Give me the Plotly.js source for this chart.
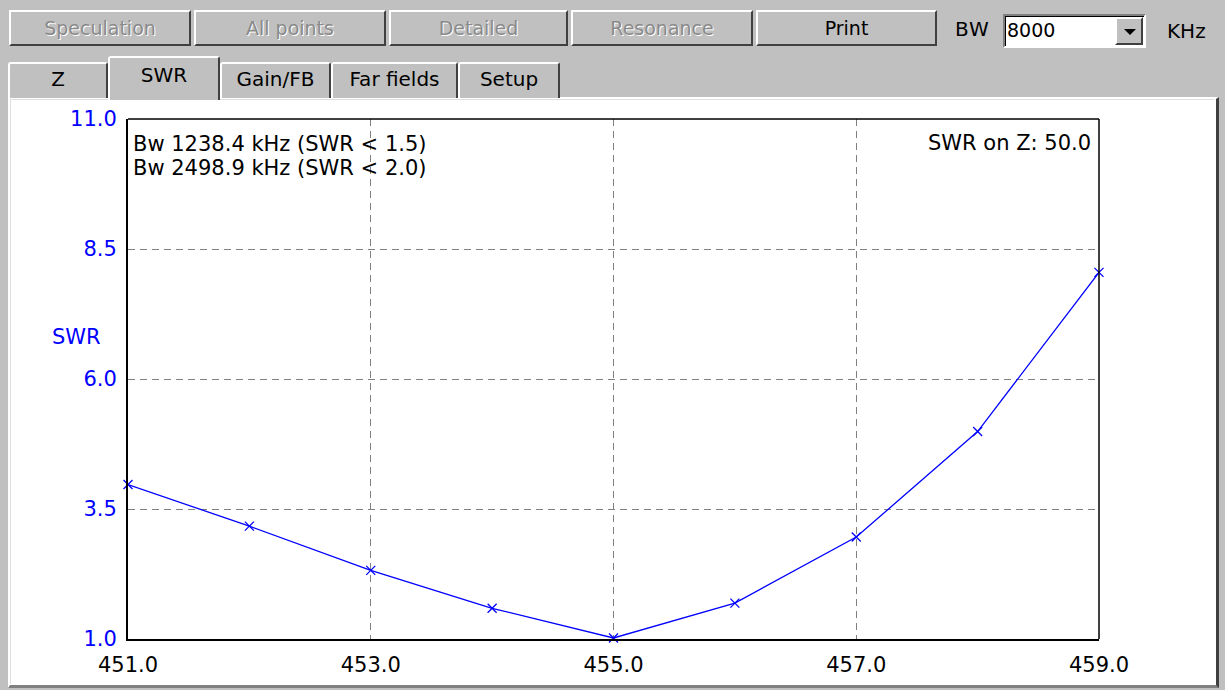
<!DOCTYPE html>
<html>
<head>
<meta charset="utf-8">
<script src="https://cdn.plot.ly/plotly-3.0.1.min.js"></script>
<style>
html,body{margin:0;padding:0;}
body{width:1225px;height:690px;background:#c0c0c0;position:relative;overflow:hidden;font-family:"DejaVu Sans",Arial,sans-serif;}
.btn{position:absolute;top:10px;height:36px;box-sizing:border-box;background:#c0c0c0;
 border-top:2px solid #ffffff;border-left:2px solid #ffffff;border-right:2px solid #404040;border-bottom:2px solid #404040;
 font-size:19px;line-height:32px;text-align:center;color:#000;}
.btn.dis{color:#8a8a8a;text-shadow:1px 1px 0 #ffffff;}
.tab{position:absolute;top:62px;height:36px;box-sizing:border-box;background:#c0c0c0;
 border-top:2px solid #ffffff;border-left:2px solid #ffffff;border-right:2px solid #404040;
 font-size:20px;line-height:30px;text-align:center;color:#000;border-radius:3px 3px 0 0;}
.tab.sel{top:56px;height:44px;z-index:3;line-height:34px;}
#panel{position:absolute;left:8px;top:97px;width:1211px;height:591px;box-sizing:border-box;background:#ffffff;
 border-top:2px solid #ffffff;border-left:2px solid #ffffff;border-right:3px solid #404040;border-bottom:3px solid #808080;}
#panelin{position:absolute;left:10px;top:99px;width:1204px;height:585px;box-sizing:border-box;border-top:1px solid #dfdfdf;border-left:1px solid #dfdfdf;}
#combo{position:absolute;left:1003px;top:14px;width:143px;height:34px;box-sizing:border-box;background:#fff;
 border-top:2px solid #808080;border-left:2px solid #808080;border-right:2px solid #ffffff;border-bottom:2px solid #ffffff;
 box-shadow:inset 1px 1px 0 #000;font-size:19px;line-height:28px;padding-left:2px;}
#drop{position:absolute;right:1px;top:1px;width:28px;height:28px;box-sizing:border-box;background:#c0c0c0;
 border-top:2px solid #fff;border-left:2px solid #fff;border-right:2px solid #404040;border-bottom:2px solid #404040;}
#drop:after{content:"";position:absolute;left:7px;top:10px;border-left:6px solid transparent;border-right:6px solid transparent;border-top:6px solid #000;}
.lbl{position:absolute;font-size:20px;color:#000;}
#chart{position:absolute;left:0;top:0;width:1225px;height:690px;z-index:5;}
</style>
</head>
<body>
<div class="btn dis" style="left:9px;width:182px;">Speculation</div>
<div class="btn dis" style="left:194px;width:192px;">All points</div>
<div class="btn dis" style="left:389px;width:179px;">Detailed</div>
<div class="btn dis" style="left:571px;width:182px;">Resonance</div>
<div class="btn" style="left:756px;width:181px;">Print</div>
<div class="lbl" style="left:955px;top:17px;letter-spacing:1px;">BW</div>
<div id="combo">8000<div id="drop"></div></div>
<div class="lbl" style="left:1167px;top:19px;">KHz</div>

<div id="panel"></div>
<div id="panelin"></div>
<div class="tab" style="left:8px;width:100px;">Z</div>
<div class="tab sel" style="left:108px;width:112px;">SWR</div>
<div class="tab" style="left:220px;width:111px;">Gain/FB</div>
<div class="tab" style="left:331px;width:127px;">Far fields</div>
<div class="tab" style="left:458px;width:102px;">Setup</div>

<div id="chart"></div>
<script>
// Frequency (MHz) and SWR values
const freq = [451.0, 452.0, 453.0, 454.0, 455.0, 456.0, 457.0, 458.0, 459.0];
const swr  = [3.97, 3.17, 2.32, 1.59, 1.02, 1.69, 2.96, 4.99, 8.05];
const xTickVals = [451, 453, 455, 457, 459];
const xTickText = ["451.0", "453.0", "455.0", "457.0", "459.0"];
const yTickVals = [1.0, 3.5, 6.0, 8.5, 11.0];
const yTickText = ["1.0", "3.5", "6.0", "8.5", "11.0"];
const infoLines = ["Bw 1238.4 kHz (SWR < 1.5)", "Bw 2498.9 kHz (SWR < 2.0)"];
const zInfo = "SWR on Z: 50.0";
const yTitle = "SWR";

const FONT = '"DejaVu Sans", Arial, sans-serif';
const trace = {
  x: freq, y: swr, type: 'scatter', mode: 'lines+markers',
  line: {color: '#0000ff', width: 1.3},
  marker: {symbol: 'x-thin', size: 9, color: '#0000ff', line: {color: '#0000ff', width: 1.3}},
  cliponaxis: false, hoverinfo: 'none'
};
const layout = {
  width: 1225, height: 690,
  margin: {l: 128, r: 126, t: 119, b: 51, pad: 0},
  paper_bgcolor: 'rgba(0,0,0,0)', plot_bgcolor: '#ffffff',
  showlegend: false,
  font: {family: FONT, size: 21, color: '#000'},
  xaxis: {
    range: [451, 459], tickmode: 'array', tickvals: xTickVals, ticktext: xTickText,
    showgrid: true, gridcolor: '#808080', griddash: '7px,5px', gridwidth: 1,
    zeroline: false, showline: true, linecolor: '#000', linewidth: 2,
    ticks: 'outside', ticklen: 6, tickcolor: 'rgba(0,0,0,0)',
    tickfont: {family: FONT, size: 21, color: '#000'},
    fixedrange: true
  },
  yaxis: {
    range: [1, 11], tickmode: 'array', tickvals: yTickVals, ticktext: yTickText,
    showgrid: true, gridcolor: '#808080', griddash: '7px,5px', gridwidth: 1,
    zeroline: false, showline: true, linecolor: '#000', linewidth: 2,
    ticks: 'outside', ticklen: 5, tickcolor: 'rgba(0,0,0,0)',
    tickfont: {family: FONT, size: 21, color: '#0000ff'}, fixedrange: true
  },
  shapes: [
    {type: 'line', xref: 'paper', yref: 'paper', x0: 0, x1: 1, y0: 1, y1: 1, line: {color: '#000', width: 1.5}},
    {type: 'line', xref: 'paper', yref: 'paper', x0: 1, x1: 1, y0: 0, y1: 1, line: {color: '#000', width: 1.5}}
  ],
  annotations: [
    {xref: 'paper', yref: 'y', x: 0.003, y: 10.51, xanchor: 'left', yanchor: 'middle',
     text: infoLines[0], showarrow: false, font: {family: FONT, size: 21, color: '#000'}},
    {xref: 'paper', yref: 'y', x: 0.003, y: 10.05, xanchor: 'left', yanchor: 'middle',
     text: infoLines[1], showarrow: false, font: {family: FONT, size: 21, color: '#000'}},
    {xref: 'paper', yref: 'y', x: 0.994, y: 10.53, xanchor: 'right', yanchor: 'middle',
     text: zInfo, showarrow: false, font: {family: FONT, size: 21, color: '#000'}},
    {xref: 'paper', yref: 'y', x: -0.080, y: 6.80, xanchor: 'left', yanchor: 'middle',
     text: yTitle, showarrow: false, font: {family: FONT, size: 21, color: '#0000ff'}}
  ]
};
Plotly.newPlot('chart', [trace], layout, {displayModeBar: false, staticPlot: true});
</script>
</body>
</html>
